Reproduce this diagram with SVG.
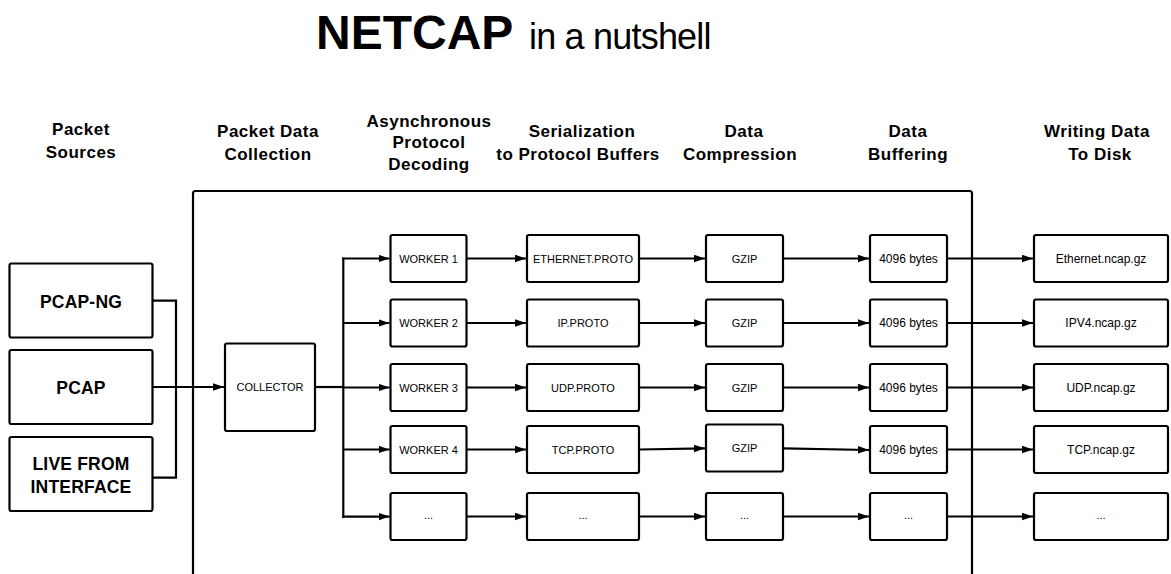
<svg xmlns="http://www.w3.org/2000/svg" width="1171" height="574" viewBox="0 0 1171 574">
<style>
.box{fill:#fff;stroke:#000;stroke-width:2.2}
.ln{fill:none;stroke:#000;stroke-width:2.2}
.arr{fill:none;stroke:#000;stroke-width:2.2;marker-end:url(#ah)}
.hd{font-family:"Liberation Sans",Arial,sans-serif;font-weight:bold;font-size:17px;letter-spacing:0.5px;text-anchor:middle;fill:#000}
.src{font-family:"Liberation Sans",Arial,sans-serif;font-weight:bold;font-size:17.5px;letter-spacing:0.2px;text-anchor:middle;fill:#000}
.lb{font-family:"Liberation Sans",Arial,sans-serif;font-size:11px;text-anchor:middle;fill:#000}
.lb2{font-family:"Liberation Sans",Arial,sans-serif;font-size:12px;text-anchor:middle;fill:#000}
</style>
<defs>
<marker id="ah" markerUnits="userSpaceOnUse" markerWidth="12" markerHeight="8" refX="11" refY="3.75" orient="auto">
<path d="M0,0 L11,3.75 L0,7.5 Z" fill="#000"/>
</marker>
</defs>
<rect width="1171" height="574" fill="#fff"/>

<g id="title">
<text x="316" y="49" font-family="Liberation Sans, Arial, sans-serif" font-weight="bold" font-size="48">NETCAP</text>
<text x="529" y="49" font-family="Liberation Sans, Arial, sans-serif" font-size="36" letter-spacing="-0.8">in a nutshell</text>
</g>

<g id="headers">
<text class="hd" x="81" y="135">Packet</text>
<text class="hd" x="81" y="157.5">Sources</text>
<text class="hd" x="268" y="137">Packet Data</text>
<text class="hd" x="268" y="159.5">Collection</text>
<text class="hd" x="429" y="126.5">Asynchronous</text>
<text class="hd" x="429" y="148">Protocol</text>
<text class="hd" x="429" y="169.5">Decoding</text>
<text class="hd" x="582" y="137">Serialization</text>
<text class="hd" x="578" y="159.5">to Protocol Buffers</text>
<text class="hd" x="744" y="137">Data</text>
<text class="hd" x="740" y="159.5">Compression</text>
<text class="hd" x="908" y="137">Data</text>
<text class="hd" x="908" y="159.5">Buffering</text>
<text class="hd" x="1097" y="137">Writing Data</text>
<text class="hd" x="1100" y="159.5">To Disk</text>
</g>

<g id="container">
<path class="ln" d="M193,576 V193.5 Q193,191 195.5,191 H969.5 Q972,191 972,193.5 V576"/>
</g>

<g id="connectors">
<path class="ln" d="M152.5,300.7 H176 V477.7 H152.5"/>
<path class="arr" d="M152.5,387 H224"/>
<path class="ln" d="M315,387 H343.3"/>
<path class="ln" d="M343.3,257.4 V517.7"/>
<path class="arr" d="M342.2,258.5 H389.5"/>
<path class="arr" d="M343.3,323 H389.5"/>
<path class="arr" d="M343.3,387.5 H389.5"/>
<path class="arr" d="M343.3,449.5 H389.5"/>
<path class="arr" d="M342.2,516.6 H389.5"/>
<path class="arr" d="M466.7,258.5 H526"/>
<path class="arr" d="M466.7,323 H526"/>
<path class="arr" d="M466.7,387.5 H526"/>
<path class="arr" d="M466.7,449.5 H526"/>
<path class="arr" d="M466.7,516.5 H526"/>
<path class="arr" d="M639,258.5 H705"/>
<path class="arr" d="M639,323 H705"/>
<path class="arr" d="M639,387.5 H705"/>
<path class="arr" d="M639,449.5 L705,448.3"/>
<path class="arr" d="M639,516.5 H705"/>
<path class="arr" d="M783,258.5 H869"/>
<path class="arr" d="M783,323 H869"/>
<path class="arr" d="M783,387.5 H869"/>
<path class="arr" d="M783,448.3 L869,450"/>
<path class="arr" d="M783,516.5 H869"/>
<path class="arr" d="M947,258.5 H1033"/>
<path class="arr" d="M947,323 H1033"/>
<path class="arr" d="M947,387.5 H1033"/>
<path class="arr" d="M947,449.5 H1033"/>
<path class="arr" d="M947,516.5 H1033"/>
</g>

<g id="src-pcapng"><rect class="box" x="9.5" y="263.5" width="143" height="74" rx="2"/><text class="src" x="81" y="307.5">PCAP-NG</text></g>
<g id="src-pcap"><rect class="box" x="9.5" y="350" width="143" height="74" rx="2"/><text class="src" x="81" y="394">PCAP</text></g>
<g id="src-live"><rect class="box" x="9.5" y="437" width="143" height="74" rx="2"/><text class="src" x="81" y="469.5">LIVE FROM</text><text class="src" x="81" y="492.5">INTERFACE</text></g>

<g id="collector"><rect class="box" x="225" y="343.5" width="90" height="87.5" rx="2"/><text class="lb" x="270" y="391">COLLECTOR</text></g>

<g id="worker1"><rect class="box" x="390.5" y="235" width="76" height="47" rx="2"/><text class="lb" x="428.5" y="262.5">WORKER 1</text></g>
<g id="worker2"><rect class="box" x="390.5" y="299.5" width="76" height="47" rx="2"/><text class="lb" x="428.5" y="327">WORKER 2</text></g>
<g id="worker3"><rect class="box" x="390.5" y="364" width="76" height="47" rx="2"/><text class="lb" x="428.5" y="391.5">WORKER 3</text></g>
<g id="worker4"><rect class="box" x="390.5" y="426" width="76" height="47" rx="2"/><text class="lb" x="428.5" y="453.5">WORKER 4</text></g>
<g id="worker5"><rect class="box" x="390.5" y="493" width="76" height="47" rx="2"/><text class="lb" x="428.5" y="519">...</text></g>

<g id="proto1"><rect class="box" x="527" y="235" width="112" height="47" rx="2"/><text class="lb" x="583" y="262.5">ETHERNET.PROTO</text></g>
<g id="proto2"><rect class="box" x="527" y="299.5" width="112" height="47" rx="2"/><text class="lb" x="583" y="327">IP.PROTO</text></g>
<g id="proto3"><rect class="box" x="527" y="364" width="112" height="47" rx="2"/><text class="lb" x="583" y="391.5">UDP.PROTO</text></g>
<g id="proto4"><rect class="box" x="527" y="426" width="112" height="47" rx="2"/><text class="lb" x="583" y="453.5">TCP.PROTO</text></g>
<g id="proto5"><rect class="box" x="527" y="493" width="112" height="47" rx="2"/><text class="lb" x="583" y="519">...</text></g>

<g id="gzip1"><rect class="box" x="706" y="235" width="77" height="47" rx="2"/><text class="lb" x="744.5" y="262.5">GZIP</text></g>
<g id="gzip2"><rect class="box" x="706" y="299.5" width="77" height="47" rx="2"/><text class="lb" x="744.5" y="327">GZIP</text></g>
<g id="gzip3"><rect class="box" x="706" y="364" width="77" height="47" rx="2"/><text class="lb" x="744.5" y="391.5">GZIP</text></g>
<g id="gzip4"><rect class="box" x="706" y="424.5" width="77" height="47" rx="2"/><text class="lb" x="744.5" y="452">GZIP</text></g>
<g id="gzip5"><rect class="box" x="706" y="493" width="77" height="47" rx="2"/><text class="lb" x="744.5" y="519">...</text></g>

<g id="buf1"><rect class="box" x="870" y="235" width="77" height="47" rx="2"/><text class="lb2" x="908.5" y="262.8">4096 bytes</text></g>
<g id="buf2"><rect class="box" x="870" y="299.5" width="77" height="47" rx="2"/><text class="lb2" x="908.5" y="327.3">4096 bytes</text></g>
<g id="buf3"><rect class="box" x="870" y="364" width="77" height="47" rx="2"/><text class="lb2" x="908.5" y="391.8">4096 bytes</text></g>
<g id="buf4"><rect class="box" x="870" y="426" width="77" height="47" rx="2"/><text class="lb2" x="908.5" y="453.8">4096 bytes</text></g>
<g id="buf5"><rect class="box" x="870" y="493" width="77" height="47" rx="2"/><text class="lb" x="908.5" y="519">...</text></g>

<g id="out1"><rect class="box" x="1034" y="235" width="134" height="47" rx="2"/><text class="lb2" x="1101" y="262.8">Ethernet.ncap.gz</text></g>
<g id="out2"><rect class="box" x="1034" y="299.5" width="134" height="47" rx="2"/><text class="lb2" x="1101" y="327.3">IPV4.ncap.gz</text></g>
<g id="out3"><rect class="box" x="1034" y="364" width="134" height="47" rx="2"/><text class="lb2" x="1101" y="391.8">UDP.ncap.gz</text></g>
<g id="out4"><rect class="box" x="1034" y="426" width="134" height="47" rx="2"/><text class="lb2" x="1101" y="453.8">TCP.ncap.gz</text></g>
<g id="out5"><rect class="box" x="1034" y="493" width="134" height="47" rx="2"/><text class="lb" x="1101" y="519">...</text></g>
</svg>
